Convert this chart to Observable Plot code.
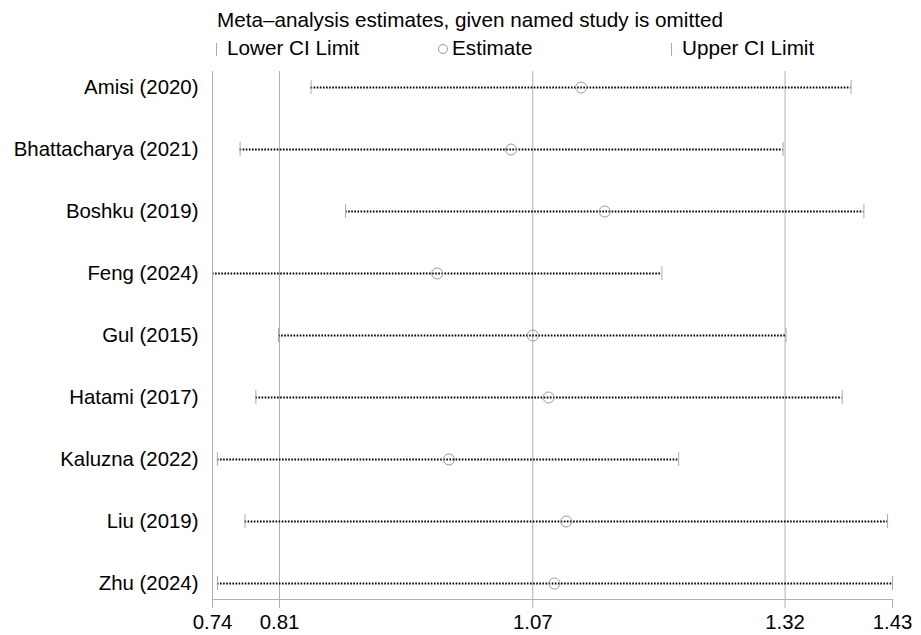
<!DOCTYPE html>
<html>
<head>
<meta charset="utf-8">
<script src="https://cdn.jsdelivr.net/npm/d3@7"></script>
<script src="https://cdn.jsdelivr.net/npm/@observablehq/plot@0.6"></script>
<style>
  body { margin: 0; background: white; }
  #wrap { width: 921px; font-family: "Liberation Sans", Arial, Helvetica, sans-serif; color: black; }
  #head { position: relative; width: 921px; height: 62px; font-size: 20.7px; line-height: 20px; }
  #head span { position: absolute; white-space: nowrap; }
  #chart svg { display: block; }
  .vbar { position: absolute; width: 1px; height: 13px; background: #aaaaaa; }
  .circ { position: absolute; width: 10px; height: 10px; border: 1px solid #999999; border-radius: 50%; box-sizing: border-box; }
</style>
</head>
<body>
<div id="wrap">
  <div id="head">
    <span style="left:217px; top:10px;">Meta–analysis estimates, given named study is omitted</span>
    <div class="vbar" style="left:216px; top:43px;"></div>
    <span style="left:227px; top:38px;">Lower CI Limit</span>
    <div class="circ" style="left:438px; top:44px;"></div>
    <span style="left:452px; top:38px;">Estimate</span>
    <div class="vbar" style="left:671px; top:43px;"></div>
    <span style="left:682px; top:38px;">Upper CI Limit</span>
  </div>
  <div id="chart"></div>
</div>
<script>
const studies = ["Amisi (2020)", "Bhattacharya (2021)", "Boshku (2019)", "Feng (2024)", "Gul (2015)",
                 "Hatami (2017)", "Kaluzna (2022)", "Liu (2019)", "Zhu (2024)"];
const estimate = [1.114, 1.043, 1.138, 0.968, 1.065, 1.081, 0.980, 1.099, 1.087];
const lower    = [0.840, 0.768, 0.875, 0.740, 0.807, 0.784, 0.745, 0.773, 0.745];
const upper    = [1.388, 1.319, 1.401, 1.196, 1.322, 1.379, 1.213, 1.425, 1.430];
const tickValues = [0.74, 0.808, 1.065, 1.321, 1.43];
const tickLabels = ["0.74", "0.81", "1.07", "1.32", "1.43"];
const gridValues = [0.74, 0.808, 1.065, 1.321];

const rows = studies.map((s, i) => ({study: s, estimate: estimate[i], lower: lower[i], upper: upper[i]}));
const labelFor = new Map(tickValues.map((v, i) => [v, tickLabels[i]]));

const chart = Plot.plot({
  width: 921,
  height: 573,
  marginTop: 9,
  marginBottom: 36,
  marginLeft: 212,
  marginRight: 29,
  style: {fontFamily: '"Liberation Sans", Arial, Helvetica, sans-serif', fontSize: "20.4px", color: "black", background: "white"},
  x: {domain: [0.74, 1.43]},
  y: {type: "point", domain: studies, padding: 0.25},
  marks: [
    Plot.ruleX(gridValues, {x: d => d, stroke: "#b0b0b0", strokeWidth: 1}),
    Plot.frame({anchor: "bottom", stroke: "#b0b0b0"}),
    Plot.ruleY(rows, {y: "study", x1: "lower", x2: "upper", stroke: "black", strokeWidth: 2, strokeDasharray: "1.6 1.5"}),
    Plot.ruleX(rows, {x: "lower", y1: "study", y2: "study", stroke: "#aaaaaa", insetTop: -7, insetBottom: -7}),
    Plot.ruleX(rows, {x: "upper", y1: "study", y2: "study", stroke: "#aaaaaa", insetTop: -7, insetBottom: -7}),
    Plot.dot(rows, {x: "estimate", y: "study", r: 5.5, stroke: "#999999", strokeWidth: 1, fill: "none"}),
    Plot.axisX({ticks: tickValues, tickFormat: d => labelFor.get(d), tickSize: 9, tickPadding: 6, stroke: "#b0b0b0", fill: "black", label: null}),
    Plot.axisY({tickSize: 0, tickPadding: 14, fill: "black", label: null})
  ]
});
document.getElementById("chart").appendChild(chart);
</script>
</body>
</html>
